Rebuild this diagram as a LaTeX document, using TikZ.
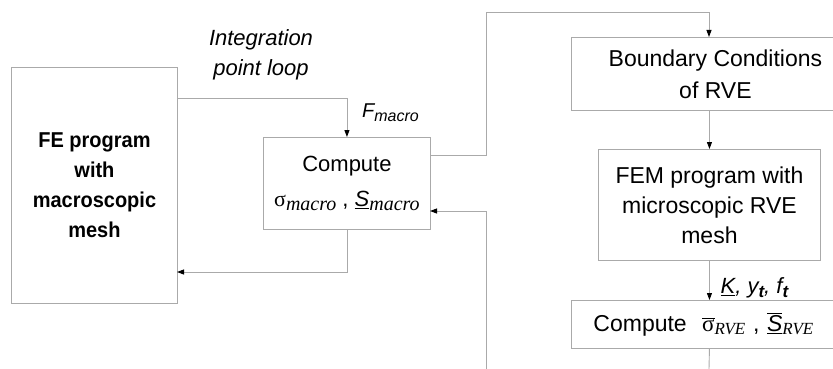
\documentclass[tikz,border=0pt]{standalone}
\usepackage{fontspec}
\setmainfont{Liberation Sans}
\newfontfamily\seriff{Liberation Serif}
\newfontfamily\narrowsans[FakeStretch=0.93]{Liberation Sans}
\usetikzlibrary{arrows.meta,calc}
\definecolor{boxgray}{RGB}{170,170,170}
\newcommand\msub[2][18]{\raisebox{-0.35ex}{\fontsize{#1}{#1}\selectfont\itshape #2}}
\tikzset{
  box/.style={draw=boxgray, line width=0.9pt, inner sep=0pt, anchor=north west, align=center},
  conn/.style={draw=boxgray, line width=0.9pt},
  arr/.style={conn, -{Triangle[length=7pt,width=5pt,color=black]}},
  lab/.style={inner sep=0pt, align=center}
}
\begin{document}
\begin{tikzpicture}[x=1pt,y=-1pt]
\useasboundingbox (0,0) rectangle (833,369);
% boxes
\node[box, minimum width=166pt, minimum height=236pt, font=\narrowsans\bfseries\fontsize{21.5}{30}\selectfont] (fe) at (11,67)
  {FE program\\ with\\ macroscopic\\ mesh};
\node[box, minimum width=167pt, minimum height=92pt, font=\fontsize{22}{30}\selectfont] (cm) at (263,137)
  {Compute\\[5pt] {\seriff σ\msub[20]{macro}} , \underline{\textit{S}}{\seriff\msub[20]{macro}}};
\node[box, minimum width=288pt, minimum height=73pt, font=\fontsize{23}{32}\selectfont] (bc) at (571,37)
  {Boundary Conditions\\ of RVE};
\node[box, minimum width=222pt, minimum height=111pt, font=\fontsize{23}{30}\selectfont] (fem) at (598,149)
  {FEM program with\\ microscopic RVE\\ mesh};
\node[box, minimum width=288pt, minimum height=48pt, text width=244pt, align=left, inner xsep=22pt, font=\fontsize{23}{30}\selectfont] (rve) at (571,300)
  {Compute\ \ \ensuremath{\overline{\hbox{\seriff σ}}}{\seriff\msub[17]{RVE}} , \ensuremath{\overline{\underline{\hbox{\itshape S}}}}{\seriff\msub[17]{RVE}}};
% labels
\node[lab, font=\itshape\fontsize{22}{30}\selectfont] (ipl) at (261,55) {Integration\\ point loop};
\node[lab, anchor=west, font=\itshape\fontsize{20}{26}\selectfont] (fm) at ($(cm.north)+(15,-24)$) {F\msub[16]{macro}};
\node[lab, anchor=west, font=\itshape\fontsize{22}{24}\selectfont] (kl) at ($(fem.south)+(11,27)$)
  {\underline{K}, y\msub[17]{\bfseries t}, f\msub[17]{\bfseries t}};
% coordinates
\coordinate (a1) at (177,98);
\coordinate (a2) at (177,272);
\coordinate (c1) at (430,155);
\coordinate (c2) at (486,12);
\coordinate (c3) at (709,12);
\coordinate (r1) at (486,369);
\coordinate (r2) at (430,211);
\coordinate (bot) at (709,369);
% connectors
\draw[arr] (a1) -| (cm.north);
\draw[arr] (cm.south) |- (a2);
\draw[arr] (c1) -| (c2) -- (c3) -- (c3 |- bc.north);
\draw[arr] (bc.south -| fem.north) -- (fem.north);
\draw[arr] (fem.south) -- (fem.south |- rve.north);
\draw[conn] (rve.south -| fem.south) -- (bot);
\draw[arr] (r1) |- (r2);
\end{tikzpicture}
\end{document}
